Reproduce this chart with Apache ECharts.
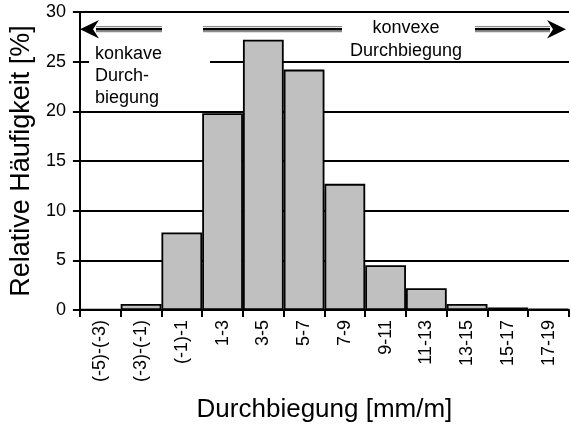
<!DOCTYPE html>
<html>
<head>
<meta charset="utf-8">
<script src="https://cdn.jsdelivr.net/npm/echarts@6/dist/echarts.min.js"></script>
<style>
html,body{margin:0;padding:0;background:#fff;}
#chart{width:571px;height:428px;}
</style>
</head>
<body>
<div id="chart"></div>
<script>
const categories = ['(-5)-(-3)','(-3)-(-1)','(-1)-1','1-3','3-5','5-7','7-9','9-11','11-13','13-15','15-17','17-19'];
const frequencies = [0.05, 0.6, 7.8, 19.8, 27.2, 24.2, 12.7, 4.5, 2.2, 0.6, 0.25, 0.1];
const yTicks = [0, 5, 10, 15, 20, 25, 30];
const xTitle = 'Durchbiegung [mm/m]';
const yTitle = 'Relative Häufigkeit [%]';
const leftNote = 'konkave\nDurch-\nbiegung';
const rightNote = 'konvexe\nDurchbiegung';

const FONT = '"Liberation Sans", Arial, sans-serif';
const chart = echarts.init(document.getElementById('chart'), null, {renderer: 'canvas'});

function shaft(x1, x2) {
  return [
    {type:'line', shape:{x1:x1, y1:26.7, x2:x2, y2:26.7}, style:{stroke:'#8a8a8a', lineWidth:1.2}, z:10},
    {type:'line', shape:{x1:x1, y1:31.7, x2:x2, y2:31.7}, style:{stroke:'#8a8a8a', lineWidth:1.2}, z:10},
    {type:'line', shape:{x1:x1, y1:29.2, x2:x2, y2:29.2}, style:{stroke:'#000', lineWidth:2.6}, z:11}
  ];
}

const graphics = [].concat(
  shaft(96, 162),
  shaft(203, 550),
  [
    {type:'polygon', shape:{points:[[80,29.3],[99,20],[93,29.3],[99,38.6]]}, style:{fill:'#000'}, z:12},
    {type:'polygon', shape:{points:[[566,29.3],[547,20],[553,29.3],[547,38.6]]}, style:{fill:'#000'}, z:12},
    {type:'rect', shape:{x:89, y:40, width:121, height:70}, style:{fill:'#fff'}, z:13},
    {type:'text', x:95, y:43, style:{text:leftNote, font:'18px ' + FONT, fill:'#000', lineHeight:22, textAlign:'left', textVerticalAlign:'top'}, z:14},
    {type:'rect', shape:{x:342, y:14, width:133, height:46}, style:{fill:'#fff'}, z:13},
    {type:'text', x:406, y:17, style:{text:rightNote, font:'18px ' + FONT, fill:'#000', lineHeight:23, textAlign:'center', textVerticalAlign:'top'}, z:14}
  ]
);

chart.setOption({
  animation: false,
  backgroundColor: '#fff',
  grid: {left: 77, right: 2, top: 12, bottom: 116, containLabel: false},
  xAxis: {
    type: 'category',
    data: categories,
    name: xTitle,
    nameLocation: 'middle',
    nameGap: 87,
    nameTextStyle: {fontFamily: FONT, fontSize: 26, color: '#000'},
    axisLine: {lineStyle: {color: '#000', width: 2}},
    axisTick: {show: true, length: 7, alignWithLabel: false, lineStyle: {color: '#000', width: 2}},
    axisLabel: {rotate: 90, fontFamily: FONT, fontSize: 18, color: '#000', margin: 10, interval: 0},
    splitLine: {show: false}
  },
  yAxis: {
    type: 'value',
    min: yTicks[0],
    max: yTicks[yTicks.length - 1],
    interval: yTicks[1] - yTicks[0],
    name: yTitle,
    nameLocation: 'middle',
    nameGap: 44,
    nameRotate: 90,
    nameTextStyle: {fontFamily: FONT, fontSize: 27, color: '#000'},
    axisLine: {show: true, lineStyle: {color: '#000', width: 2}},
    axisTick: {show: true, length: 7, lineStyle: {color: '#000', width: 2}},
    axisLabel: {fontFamily: FONT, fontSize: 18, color: '#000', margin: 14},
    splitLine: {show: true, lineStyle: {color: '#000', width: 2}}
  },
  series: [{
    type: 'bar',
    data: frequencies,
    barCategoryGap: '0%',
    itemStyle: {color: '#c0c0c0', borderColor: '#000', borderWidth: 1.8},
    z: 5
  }],
  graphic: graphics
});
</script>
</body>
</html>
